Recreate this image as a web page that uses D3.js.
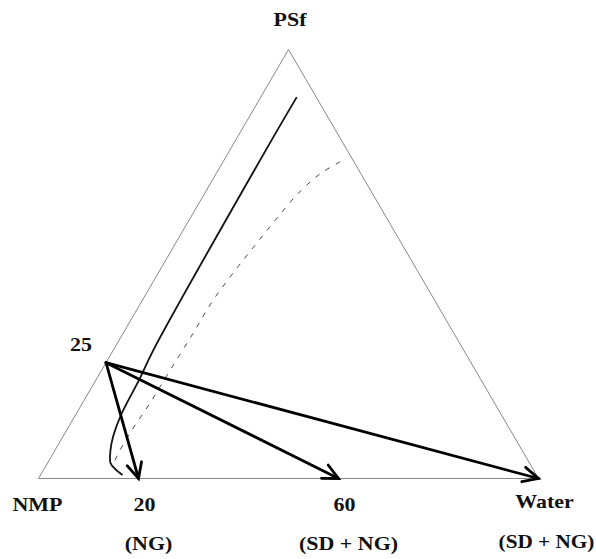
<!DOCTYPE html>
<html>
<head>
<meta charset="utf-8">
<script src="https://cdn.jsdelivr.net/npm/d3@7"></script>
<style>
  html, body { margin: 0; padding: 0; background: #ffffff; }
  text { font-family: "Liberation Serif", "Times New Roman", serif; font-weight: bold; fill: #111; }
</style>
</head>
<body>
<div id="chart"></div>
<script>
// Ternary diagram PSf / NMP / Water (values in wt%, given as [water, PSf])
const vertexLabels = ["PSf", "NMP", "Water"];

// casting solution on the PSf-NMP side
const startWater = 0;
const startPSf = 27;
const startLabel = "25";

// coagulation bath compositions the arrows point at (water %, on the NMP-Water side)
const targetWater = [20, 60, 100];
const targetLabels = ["20", "60", "Water"];
const targetNotes = ["(NG)", "(SD + NG)", "(SD + NG)"];

// solid curve
const solidWater = [7.2, 7.2, 8.0, 8.6, 9.1, 10.0, 11.1, 12.6, 14.1, 16.4];
const solidPSf   = [88.9, 76.6, 30.0, 23.4, 14.8, 9.9, 6.6, 3.6, 2.3, 0.8];

// dashed curve
const dashedWater = [23.4, 20.8, 18.6, 17.2, 16.0, 14.9, 14.1, 14.0, 13.7, 13.5, 13.0, 13.1, 13.6, 16.4];
const dashedPSf   = [73.8, 71.0, 66.1, 59.9, 53.8, 47.4, 41.1, 33.8, 25.3, 17.5, 10.5, 5.1, 2.8, 1.2];

const width = 596, height = 559;

// horizontal position along the base, and height toward the PSf apex
const xs = d3.scaleLinear().domain([0, 100]).range([38.5, 538.5]);
const ys = d3.scaleLinear().domain([0, 100]).range([478.5, 49.5]);

function project(w, p) {
    return [xs(w + p / 2), ys(p)];
}

const svg = d3.select("#chart").append("svg")
    .attr("width", width)
    .attr("height", height);

svg.append("rect")
    .attr("width", width)
    .attr("height", height)
    .attr("fill", "#ffffff");

// triangle outline
const corners = [project(0, 100), project(0, 0), project(100, 0)];
svg.append("path")
    .attr("d", "M" + corners.join("L") + "Z")
    .attr("fill", "none")
    .attr("stroke", "#7a7a7a")
    .attr("stroke-width", 0.9);

const line = d3.line().curve(d3.curveCatmullRom.alpha(0.5));

// dashed curve
svg.append("path")
    .attr("d", line(dashedWater.map((w, i) => project(w, dashedPSf[i]))))
    .attr("fill", "none")
    .attr("stroke", "#333")
    .attr("stroke-width", 0.9)
    .attr("stroke-dasharray", "5,7");

// solid curve
svg.append("path")
    .attr("d", line(solidWater.map((w, i) => project(w, solidPSf[i]))))
    .attr("fill", "none")
    .attr("stroke", "#111")
    .attr("stroke-width", 1.8);

// arrows from the casting solution to each bath
const start = project(startWater, startPSf);
const arrowLen = 17;
const arrowAngle = 26 * Math.PI / 180;

const arrows = svg.append("g")
    .attr("fill", "none")
    .attr("stroke", "#000")
    .attr("stroke-width", 2.8)
    .attr("stroke-linecap", "round")
    .attr("stroke-linejoin", "miter");

targetWater.forEach(function (w) {
    const tip = project(w, 0);
    const ang = Math.atan2(start[1] - tip[1], start[0] - tip[0]);
    const b1 = [tip[0] + arrowLen * Math.cos(ang + arrowAngle), tip[1] + arrowLen * Math.sin(ang + arrowAngle)];
    const b2 = [tip[0] + arrowLen * Math.cos(ang - arrowAngle), tip[1] + arrowLen * Math.sin(ang - arrowAngle)];
    arrows.append("path")
        .attr("d", "M" + start + "L" + tip);
    arrows.append("path")
        .attr("d", "M" + b1 + "L" + tip + "L" + b2);
});

// labels: the print face is wide, so stretch it a little horizontally
function label(x, y, str, sx) {
    svg.append("text")
        .attr("transform", "translate(" + x + "," + y + ") scale(" + (sx || 1.22) + ",1)")
        .attr("text-anchor", "middle")
        .attr("font-size", 18)
        .text(str);
}

label(xs(50) + 1.5, 26, vertexLabels[0]);
label(xs(0) - 1, 510.5, vertexLabels[1]);
label(start[0] - 25, 350.5, startLabel);

targetWater.forEach(function (w, i) {
    label(xs(w) + 6, i === 2 ? 508 : 510.5, targetLabels[i]);
    if (i === 2) {
        label(xs(w) + 8, 548, targetNotes[i], 1.18);
    } else {
        label(xs(w) + 10, 550, targetNotes[i]);
    }
});
</script>
</body>
</html>
